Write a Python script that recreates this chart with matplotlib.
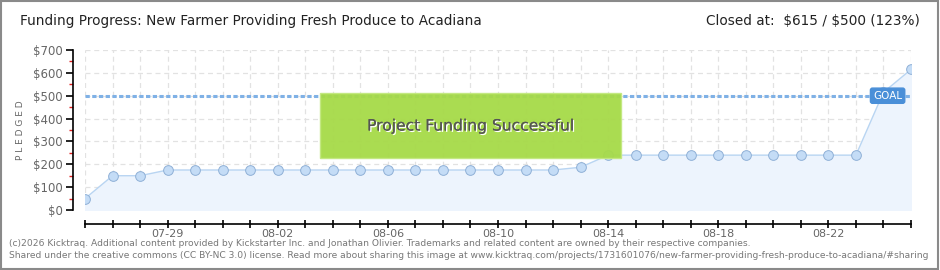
import matplotlib.pyplot as plt
import numpy as np
from matplotlib.patches import Rectangle
import matplotlib.patheffects as pe

days = ['07-26', '07-27', '07-28', '07-29', '07-30', '07-31', '08-01', '08-02',
        '08-03', '08-04', '08-05', '08-06', '08-07', '08-08', '08-09', '08-10',
        '08-11', '08-12', '08-13', '08-14', '08-15', '08-16', '08-17', '08-18',
        '08-19', '08-20', '08-21', '08-22', '08-23', '08-24', '08-25']
pledged = [50, 150, 150, 175, 175, 175, 175, 175, 175, 175, 175, 175, 175, 175,
           175, 175, 175, 175, 187, 240, 240, 240, 240, 240, 240, 240, 240, 240,
           240, 515, 615]
goal = 500
yticks = [0, 100, 200, 300, 400, 500, 600, 700]
shown_days = ['07-29', '08-02', '08-06', '08-10', '08-14', '08-18', '08-22']

plt.rcParams['font.family'] = ['DejaVu Sans']

W, H = 940, 270
fig = plt.figure(figsize=(W / 100, H / 100), dpi=100)
fig.patch.set_facecolor('white')

# frame round the whole picture
fig.add_artist(Rectangle((0.001, 0.002), 0.997, 0.995, transform=fig.transFigure,
                         fill=False, edgecolor='#8a8a8a', linewidth=1.5))

x0, x1, y0, y1 = 85, 911, 50, 210
ax = fig.add_axes([x0 / W, 1 - y1 / H, (x1 - x0) / W, (y1 - y0) / H])
x = np.arange(len(pledged))
ax.set_xlim(0, len(pledged) - 1)
ax.set_ylim(0, 700)

ax.grid(True, color='#e2e2e2', linestyle=(0, (4, 3)), linewidth=0.9)
ax.set_axisbelow(True)
ax.set_xticks(x)
ax.set_yticks(yticks)

ax.fill_between(x, pledged, 0, color='#edf4fd', zorder=1)
ax.plot(x, pledged, color='#b9d5f2', linewidth=1, zorder=3)
ax.plot(x, pledged, 'o', markersize=7, markerfacecolor='#c4dcf6',
        markeredgecolor='#8fb0d6', markeredgewidth=0.7, zorder=4)

ax.axhline(goal, color='#7fb1e6', linestyle=(0, (1.4, 0.8)), linewidth=2.2, zorder=2)

# goal tag
ax.text(x[-1] - 0.85, goal, 'GOAL', color='white', fontsize=7.5, ha='center',
        va='center', zorder=6,
        bbox=dict(boxstyle='round,pad=0.25,rounding_size=0.2', fc='#4a8fd8',
                  ec='#4a8fd8'))

# success banner
bx0, bx1, by0, by1 = 320, 621, 93, 158
fig.add_artist(Rectangle((bx0 / W, 1 - by1 / H), (bx1 - bx0) / W, (by1 - by0) / H,
                         transform=fig.transFigure, facecolor='#a6da48',
                         edgecolor='#c3e880', linewidth=1, alpha=0.95, zorder=5))
fig.text((bx0 + bx1) / 2 / W, 1 - 126 / H, 'Project Funding Successful',
         ha='center', va='center', fontsize=11.2, color='#555555', zorder=6,
         path_effects=[pe.withSimplePatchShadow(offset=(1, -1), shadow_rgbFace='white',
                                                alpha=1.0), pe.Normal()])

# spines and ticks
for s in ['top', 'right']:
    ax.spines[s].set_visible(False)
ax.spines['left'].set_position(('outward', 9))
ax.spines['bottom'].set_position(('outward', 10))
ax.spines['left'].set_linewidth(1.2)
ax.spines['bottom'].set_linewidth(1.2)
ax.yaxis.set_major_formatter(lambda v, p: '$%d' % v)
ax.tick_params(axis='y', length=5, width=1.2, labelsize=8.5, labelcolor='#666666',
               pad=2)
ax.set_yticks([50, 150, 250, 350, 450, 550, 650], minor=True)
ax.tick_params(axis='y', which='minor', length=3, width=1, color='#e02020')
ax.set_xticklabels([d if d in shown_days else '' for d in days])
ax.tick_params(axis='x', direction='inout', length=6, width=1.2, labelsize=8,
               labelcolor='#666666', pad=1)
ax.set_ylabel('P L E D G E D', fontsize=6.5, color='#666666', labelpad=6)

# header
fig.text(20 / W, 1 - 21 / H,
         'Funding Progress: New Farmer Providing Fresh Produce to Acadiana',
         fontsize=9.8, color='#222222', va='center', ha='left')
fig.text(920 / W, 1 - 21 / H, r'Closed at:  \$615 / \$500 (123%)', fontsize=9.8,
         color='#222222', va='center', ha='right')

# footer
fig.text(9 / W, 1 - 243 / H,
         '(c)2026 Kicktraq. Additional content provided by Kickstarter Inc. and Jonathan '
         'Olivier. Trademarks and related content are owned by their respective companies.',
         fontsize=6.6, color='#777777', va='center', ha='left')
fig.text(9 / W, 1 - 256 / H,
         'Shared under the creative commons (CC BY-NC 3.0) license. Read more about sharing '
         'this image at www.kicktraq.com/projects/1731601076/new-farmer-providing-fresh-'
         'produce-to-acadiana/#sharing',
         fontsize=6.55, color='#777777', va='center', ha='left')

fig.savefig('out.png', dpi=100, facecolor='white')
